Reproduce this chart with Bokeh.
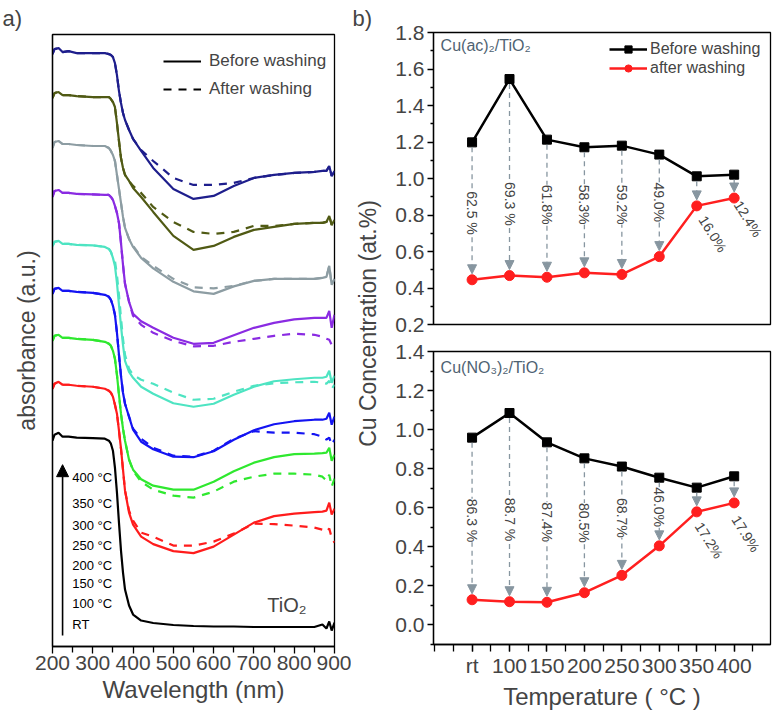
import math
from bokeh.plotting import figure
from bokeh.layouts import row, column
from bokeh.models import (Range1d, FixedTicker, NumeralTickFormatter, Label, Legend, LegendItem,
                          Arrow, NormalHead, ColumnDataSource, Title)
from bokeh.core.properties import value
from bokeh.embed import file_html
from bokeh.resources import INLINE

FONT = "Liberation Sans"

# ---------------- panel a) : UV-vis spectra (stacked, arbitrary units) ----------------
wavelength = [200, 205, 215, 225, 240, 260, 300, 330, 340, 345, 350, 355, 360, 365, 370, 375, 380,
              390, 400, 420, 450, 500, 550, 600, 650, 700, 750, 800, 850, 870, 880, 887, 893, 900]

tio2 = [206, 212, 214, 210, 210, 209, 208.5, 208, 206, 203, 196, 179, 154, 124, 96, 74, 57,
        41, 32, 26, 23.5, 21.5, 20.5, 20, 20, 19.5, 19.5, 19.5, 19.5, 22, 18, 25, 16, 24]

rt_before = [258, 263, 265, 262, 262, 261, 260, 258, 256, 254, 250, 242, 233, 216, 198, 177, 156,
             134, 122, 110, 102.5, 95.5, 93.5, 100, 112, 124, 130.5, 133, 134.5, 135, 136, 144, 132, 138]
rt_after = [258, 263, 265, 262, 262, 261, 260, 258, 256, 254, 250, 242, 233, 216, 198, 177, 156,
            136, 126, 114, 110, 101, 101, 105, 113, 123, 122.5, 121, 119, 117, 115, 118, 109, 104]

c100_before = [306, 311, 312, 309, 309, 308, 307, 305, 303, 301, 296, 288, 272, 252, 233, 218, 206,
               187, 177, 167.5, 161, 157, 157, 165, 175.5, 184, 189.5, 192.5, 193, 193.5, 194, 199, 186, 192]
c100_after = [306, 311, 312, 309, 309, 308, 307, 305, 303, 301, 296, 288, 272, 252, 233, 218, 206,
              187, 176, 165, 157, 151, 149, 155, 165, 170, 173, 173, 172, 170, 166, 172, 160, 168]

c150_before = [353, 358, 359, 356, 356, 355, 354, 352, 350, 347, 341, 332, 314, 292, 271, 254, 243,
               230, 217, 205, 197.5, 190, 189.5, 195.5, 207, 216.5, 222.5, 225.5, 227, 227, 228, 234, 222, 230]
c150_after = [353, 358, 359, 356, 356, 355, 354, 352, 350, 347, 341, 332, 314, 292, 271, 254, 243,
              230, 218, 208, 199, 191, 190, 196, 208, 215.5, 214, 214, 212.5, 210, 207, 209, 202, 207]

c200_before = [401, 405, 406, 403, 403, 402, 401.5, 400, 398, 395, 389, 381, 364, 342, 321, 302, 286,
               275, 269, 260, 253, 243.5, 240, 243, 252, 260, 265.5, 267.5, 269, 269, 270, 276, 264, 271]
c200_after = [401, 405, 406, 403, 403, 402, 401.5, 400, 398, 395, 389, 386, 372, 352, 329, 308, 292,
              278, 272, 267, 263, 254, 247, 248, 255, 261, 263.5, 264.5, 265, 264, 263, 266, 258, 262]

c250_before = [450, 456, 457, 454, 454, 453, 452.5, 452, 452, 450, 447, 441, 434, 424, 404, 382, 363,
               345, 333, 325.5, 319, 309, 303, 304, 311.5, 319, 324, 327.5, 329, 329, 329, 336, 319, 332]
c250_after = [450, 456, 457, 454, 454, 453, 452.5, 452, 452, 450, 447, 441, 434, 424, 404, 382, 363,
              345, 331, 322, 314, 306, 300.5, 301, 305, 308, 311, 313, 312, 310, 308, 307, 302, 306]

c300_before = [499, 505, 506, 503, 503, 502, 501, 501, 499, 496, 492, 486, 472, 458, 444, 430, 419,
               408, 400, 389, 378.5, 365, 355.5, 353, 360.5, 366, 368, 368, 368, 369, 370, 381, 362, 368]
c300_after = [499, 505, 506, 503, 503, 502, 501, 501, 499, 496, 492, 486, 472, 458, 444, 430, 419,
              408, 401, 390, 381, 368, 359.5, 358.5, 361, 366, 368, 368, 368, 369, 370, 381, 362, 368]

c350_before = [549, 554, 555, 552, 552, 551, 550, 550, 550, 548, 545, 540, 524, 506, 489, 479, 472,
               466, 459, 450, 435, 411, 397, 401, 410, 417, 420, 423, 424, 424, 425, 431, 422, 427]
c350_after = [549, 554, 555, 552, 552, 551, 550, 550, 550, 548, 545, 540, 524, 506, 489, 479, 472,
              466, 461, 454, 440, 425, 415, 413, 415, 421, 421, 423, 424, 424, 425, 431, 422, 427]

c400_before = [593, 598, 599, 595, 596, 594, 594, 594, 593, 592, 590, 584, 572, 556, 544, 534, 527,
               517, 508, 496, 479, 458, 448, 451, 461, 469, 472, 474, 475, 476, 476, 481, 471, 476]
c400_after = [593, 598, 599, 595, 596, 594, 594, 594, 593, 592, 590, 584, 572, 556, 544, 534, 527,
              517, 508, 497, 486, 469, 462, 462, 464, 469, 472, 474, 475, 476, 476, 481, 471, 476]

temp_labels = ["RT", "100 °C", "150 °C", "200 °C", "250 °C", "300 °C", "350 °C", "400 °C"]
spectra = [(rt_before, rt_after, "#ff1c1c"),
           (c100_before, c100_after, "#2fe82f"),
           (c150_before, c150_after, "#1414f2"),
           (c200_before, c200_after, "#4ee4c2"),
           (c250_before, c250_after, "#8a2be2"),
           (c300_before, c300_after, "#8d9da3"),
           (c350_before, c350_after, "#505a14"),
           (c400_before, c400_after, "#1e1e8c")]

# ---------------- panel b) : Cu concentration ----------------
temps = ["rt", "100", "150", "200", "250", "300", "350", "400"]
ac_before = [1.198, 1.545, 1.213, 1.171, 1.180, 1.131, 1.012, 1.021]
ac_after = [0.445, 0.468, 0.459, 0.483, 0.474, 0.572, 0.850, 0.893]
ac_pct = ["62.5 %", "69.3 %", "61.8%", "58.3%", "59.2%", "49.0%", "16.0%", "12.4%"]
no3_before = [0.959, 1.085, 0.935, 0.853, 0.811, 0.754, 0.703, 0.761]
no3_after = [0.129, 0.119, 0.116, 0.165, 0.254, 0.405, 0.579, 0.625]
no3_pct = ["86.3 %", "88.7 %", "87.4%", "80.5%", "68.7%", "46.0%", "17.2%", "17.9%"]

# label placement (layout only)
ac_lab_x = [1, 2, 3, 4, 5, 6, 7.43, 8.37]
ac_lab_y = [0.811, 0.861, 0.857, 0.857, 0.857, 0.870, 0.696, 0.779]
no3_lab_x = [1, 2, 3, 4, 5, 6, 7.33, 8.31]
no3_lab_y = [0.535, 0.540, 0.526, 0.523, 0.548, 0.603, 0.433, 0.467]
lab_angle = [-90, -90, -90, -90, -90, -90, -58, -58]

ARROW_GRAY = "#8796a0"
NOTE_COLOR = "#4e6272"
TOTAL_H = 709
NAN = float("nan")


def style_axis(ax, tick_size="21px"):
    ax.major_label_text_font = FONT
    ax.major_label_text_font_size = tick_size
    ax.axis_label_text_font = FONT
    ax.axis_label_text_font_style = "normal"
    ax.axis_line_width = 1.3
    ax.major_tick_line_width = 1.3
    ax.minor_tick_line_width = 1.3
    ax.major_tick_in = 0
    ax.minor_tick_in = 0


def panel_title(text, offset):
    return Title(text=text, align="left", offset=offset, standoff=7, text_font=FONT,
                 text_font_size="22px", text_font_style="normal")


# ---------------- figure a ----------------
pa = figure(frame_width=282, frame_height=612, x_range=Range1d(200, 900), y_range=Range1d(0, 612.6),
            min_border_left=52, min_border_right=17, min_border_top=32,
            min_border_bottom=TOTAL_H - 32 - 612,
            toolbar_location=None, output_backend="svg", title=None)
pa.grid.visible = False
pa.outline_line_color = "black"
pa.outline_line_width = 1.3
pa.add_layout(panel_title("a)", -50), "above")

for before, after, col in spectra:
    pa.line(wavelength, after, line_color=col, line_width=2.2, line_dash="8 7")
    pa.line(wavelength, before, line_color=col, line_width=2.2)
pa.line(wavelength, tio2, line_color="black", line_width=2.2)

xa = pa.xaxis[0]
xa.ticker = FixedTicker(ticks=list(range(200, 901, 100)), minor_ticks=list(range(250, 900, 100)))
style_axis(xa)
xa.major_tick_out = 7
xa.minor_tick_out = 6
xa.major_label_standoff = 2
xa.axis_label = "Wavelength (nm)"
xa.axis_label_text_font_size = "24px"
xa.axis_label_standoff = 3

ya = pa.yaxis[0]
ya.ticker = FixedTicker(ticks=[])
style_axis(ya)
ya.major_tick_out = 0
ya.minor_tick_out = 0
ya.major_label_standoff = 0
ya.axis_label = "absorbance (a.u.)"
ya.axis_label_text_font_size = "23px"
ya.axis_label_standoff = 13

# legend of panel a (line styles only; the key renderers hold a single NaN point)
leg_solid = pa.line(x=[NAN], y=[NAN], line_color="black", line_width=2)
leg_dash = pa.line(x=[NAN], y=[NAN], line_color="black", line_width=2, line_dash="8 7")
leg_a = Legend(items=[LegendItem(label="Before washing", renderers=[leg_solid]),
                      LegendItem(label="After washing", renderers=[leg_dash])],
               location=(111, 547), border_line_color=None, background_fill_alpha=0,
               padding=0, margin=0, spacing=8, glyph_width=38, glyph_height=20, label_height=20,
               label_standoff=8, label_text_font=FONT, label_text_font_size="17px")
pa.add_layout(leg_a)

# temperature labels + arrow
temp_y = [22, 43.3, 62.6, 81, 101, 121.6, 143.3, 169.3]
pa.text(x=[249] * len(temp_labels), y=temp_y, text=temp_labels, text_font=value(FONT),
        text_font_size="13px", text_baseline="middle", text_color="black")
pa.add_layout(Arrow(end=NormalHead(size=12, fill_color="black", line_color="black"),
                    x_start=225, y_start=11, x_end=225, y_end=182, line_width=1.6, line_color="black"))
pa.add_layout(Label(x=733, y=31, text="TiO₂", text_font=FONT, text_font_size="20px"))

# ---------------- shared label strip of panel b ----------------
pm = figure(frame_width=1, frame_height=578, x_range=Range1d(0, 1), y_range=Range1d(0, 1),
            min_border_left=30, min_border_right=4, min_border_top=32,
            min_border_bottom=TOTAL_H - 32 - 578,
            toolbar_location=None, output_backend="svg", title=None)
pm.grid.visible = False
pm.outline_line_color = None
pm.xaxis.visible = False
pm.add_layout(panel_title("b)", -30), "above")
ym = pm.yaxis[0]
ym.ticker = FixedTicker(ticks=[])
style_axis(ym)
ym.axis_line_color = None
ym.major_tick_out = 0
ym.minor_tick_out = 0
ym.major_label_standoff = 0
ym.axis_label = "Cu Concentration (at.%)"
ym.axis_label_text_font_size = "23px"
ym.axis_label_standoff = 2

# ---------------- figures b ----------------
xpos = [i + 1 for i in range(len(temps))]


def conc_fig(before, after, pct, lab_x, lab_y, ylo, yhi, major, minor, fh, top_b, bot_b, note,
             note_y, show_x, legend):
    p = figure(frame_width=337, frame_height=fh, x_range=Range1d(-0.03, 8.97),
               y_range=Range1d(ylo, yhi),
               min_border_left=46, min_border_right=4, min_border_top=top_b, min_border_bottom=bot_b,
               toolbar_location=None, output_backend="svg", title=None)
    p.grid.visible = False
    p.outline_line_color = "black"
    p.outline_line_width = 1.3
    dpp = (yhi - ylo) / fh  # data units per pixel
    src = ColumnDataSource(dict(xs=xpos, ys=[b - 5 * dpp for b in before],
                                xe=xpos, ye=[a + 6 * dpp for a in after]))
    p.add_layout(Arrow(end=NormalHead(size=9, fill_color=ARROW_GRAY, line_color=ARROW_GRAY),
                       source=src, x_start="xs", y_start="ys", x_end="xe", y_end="ye",
                       line_color=ARROW_GRAY, line_width=1.3, line_dash="5 4"))
    for x, y, t, ang in zip(lab_x, lab_y, pct, lab_angle):
        p.add_layout(Label(x=x, y=y, text=t, angle=math.radians(ang), text_align="center",
                           text_baseline="middle", text_font=FONT, text_font_size="14px",
                           background_fill_color="white" if ang == -90 else None))
    lb = p.line(xpos, before, line_color="black", line_width=2.5)
    sb = p.scatter(xpos, before, marker="square", size=9, color="black")
    la = p.line(xpos, after, line_color="#ff1f1f", line_width=2.5)
    sa = p.scatter(xpos, after, marker="circle", size=10, color="#ff1f1f")
    p.add_layout(Label(x=0.16, y=note_y, text=note, text_font=FONT, text_font_size="16px",
                       text_color=NOTE_COLOR))
    ax = p.yaxis[0]
    ax.ticker = FixedTicker(ticks=major, minor_ticks=minor)
    ax.formatter = NumeralTickFormatter(format="0.0")
    style_axis(ax)
    ax.major_tick_out = 6
    ax.minor_tick_out = 3
    ax.major_label_standoff = 3
    xa = p.xaxis[0]
    if show_x:
        xa.ticker = FixedTicker(ticks=xpos, minor_ticks=[i * 0.5 for i in range(18)])
        xa.major_label_overrides = {x: t for x, t in zip(xpos, temps)}
        style_axis(xa)
        xa.major_tick_out = 7
        xa.minor_tick_out = 7
        xa.major_label_standoff = 2
        xa.axis_label = "Temperature ( °C )"
        xa.axis_label_text_font_size = "24px"
        xa.axis_label_standoff = 3
    else:
        xa.visible = False
    if legend:
        leg = Legend(items=[LegendItem(label="Before washing", renderers=[lb, sb]),
                            LegendItem(label="after washing", renderers=[la, sa])],
                     location=(176, 247), border_line_color=None, background_fill_alpha=0,
                     padding=0, margin=0, spacing=1, glyph_width=38, glyph_height=18,
                     label_height=18, label_standoff=3, label_text_font=FONT,
                     label_text_font_size="16px")
        p.add_layout(leg)
    return p


pb1 = conc_fig(ac_before, ac_after, ac_pct, ac_lab_x, ac_lab_y, 0.2, 1.8,
               [round(0.2 + 0.2 * i, 1) for i in range(9)],
               [round(0.3 + 0.2 * i, 1) for i in range(8)],
               292, 32, 13, "Cu(ac)₂/TiO₂", 1.68, False, True)
pb2 = conc_fig(no3_before, no3_after, no3_pct, no3_lab_x, no3_lab_y, -0.1, 1.4,
               [round(0.2 * i, 1) for i in range(8)],
               [round(-0.1 + 0.2 * i, 1) for i in range(8)],
               293, 14, TOTAL_H - 337 - 14 - 293, "Cu(NO₃)₂/TiO₂", 1.275, True, False)

layout = row(pa, pm, column(pb1, pb2))

with open("out.html", "w") as f:
    f.write(file_html(layout, INLINE))
